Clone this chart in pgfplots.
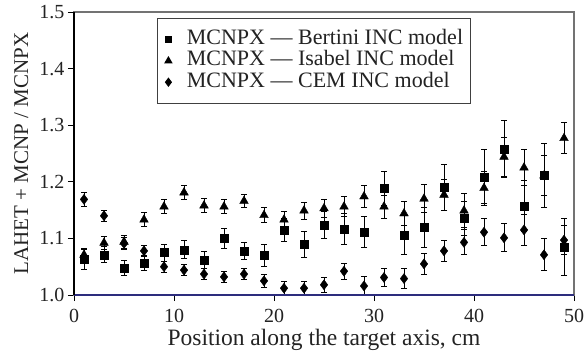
\documentclass[border=0pt]{standalone}
\usepackage{pgfplots}
\pgfplotsset{compat=1.18}
\usepackage{fontspec}
\setmainfont{Liberation Serif}
\definecolor{navyline}{RGB}{45,45,125}
\definecolor{frame}{RGB}{115,115,115}
\definecolor{txt}{RGB}{35,35,35}
\begin{document}
\begin{tikzpicture}
\begin{axis}[
  scale only axis,
  width=500bp, height=283bp,
  xmin=0, xmax=50, ymin=1.0, ymax=1.5,
  xtick={0,10,...,50},
  ytick={1.0,1.1,...,1.5},
  /pgf/number format/assume math mode=true,
  tick align=outside,
  major tick length=6bp,
  tick style={black, line width=0.8bp},
  xtick pos=bottom, ytick pos=left,
  axis line style={frame, line width=1.2bp},
  tick label style={font=\fontsize{20bp}{24bp}\selectfont, text=txt},
  xticklabel style={anchor=base, yshift=-21bp},
  yticklabel style={anchor=east, /pgf/number format/.cd, fixed, fixed zerofill, precision=1},
  xlabel={Position along the target axis, cm},
  ylabel={LAHET + MCNP / MCNPX},
  every axis x label/.style={at={(axis description cs:0.5,-0.1767)}, anchor=base,
    font=\fontsize{23.5bp}{27bp}\selectfont, text=txt},
  every axis y label/.style={at={(axis description cs:-0.092,0.5)}, anchor=base, rotate=90,
    font=\fontsize{21bp}{25bp}\selectfont, text=txt},
  legend style={at={(0.166,0.9788)}, anchor=north west, draw=black!75, line width=0.9bp,
    font=\fontsize{22bp}{26bp}\selectfont, row sep=0pt, column sep=15bp,
    inner xsep=7.5bp, inner ysep=10.5bp,
    nodes={inner sep=0bp, text height=15.5bp, text depth=5.8bp, text=txt}},
  legend image post style={scale=0.8},
  legend cell align=left,
  clip=false,
]
\coordinate (ll) at (rel axis cs:0,0);
\coordinate (ur) at (rel axis cs:1,1);
\addplot[only marks, mark=square*, mark size=4bp, black,
  error bars/.cd, y dir=both, y explicit,
  error mark options={rotate=90, mark size=3bp, black, line width=1bp},
  error bar style={line width=1bp, black}]
coordinates {
(1,1.063) +- (0,0.018)
(3,1.071) +- (0,0.014)
(5,1.048) +- (0,0.013)
(7,1.056) +- (0,0.013)
(9,1.075) +- (0,0.015)
(11,1.080) +- (0,0.016)
(13,1.061) +- (0,0.015)
(15,1.100) +- (0,0.017)
(17,1.078) +- (0,0.015)
(19,1.070) +- (0,0.019)
(21,1.115) +- (0,0.020)
(23,1.090) +- (0,0.023)
(25,1.124) +- (0,0.024)
(27,1.117) +- (0,0.027)
(29,1.111) +- (0,0.027)
(31,1.189) +- (0,0.030)
(33,1.106) +- (0,0.034)
(35,1.119) +- (0,0.035)
(37,1.190) +- (0,0.041)
(39,1.135) +- (0,0.030)
(41,1.209) +- (0,0.048)
(43,1.258) +- (0,0.050)
(45,1.157) +- (0,0.045)
(47,1.211) +- (0,0.057)
(49,1.085) +- (0,0.050)
};
\addlegendentry{MCNPX --- Bertini INC model\hspace{2bp}}
\addplot[only marks, mark=triangle*, mark size=5bp, black,
  error bars/.cd, y dir=both, y explicit,
  error mark options={rotate=90, mark size=3bp, black, line width=1bp},
  error bar style={line width=1bp, black}]
coordinates {
(1,1.071) +- (0,0.012)
(3,1.092) +- (0,0.012)
(5,1.094) +- (0,0.012)
(7,1.133) +- (0,0.012)
(9,1.156) +- (0,0.012)
(11,1.181) +- (0,0.012)
(13,1.158) +- (0,0.012)
(15,1.156) +- (0,0.012)
(17,1.166) +- (0,0.012)
(19,1.141) +- (0,0.013)
(21,1.133) +- (0,0.014)
(23,1.149) +- (0,0.015)
(25,1.153) +- (0,0.016)
(27,1.156) +- (0,0.018)
(29,1.174) +- (0,0.019)
(31,1.156) +- (0,0.020)
(33,1.144) +- (0,0.021)
(35,1.170) +- (0,0.025)
(37,1.177) +- (0,0.027)
(39,1.149) +- (0,0.030)
(41,1.189) +- (0,0.030)
(43,1.244) +- (0,0.035)
(45,1.225) +- (0,0.032)
(47,1.211) +- (0,0.035)
(49,1.277) +- (0,0.027)
};
\addlegendentry{MCNPX --- Isabel INC model}
\addplot[only marks, mark=diamond*, mark size=5bp, black,
  error bars/.cd, y dir=both, y explicit,
  error mark options={rotate=90, mark size=3bp, black, line width=1bp},
  error bar style={line width=1bp, black}]
coordinates {
(1,1.169) +- (0,0.012)
(3,1.140) +- (0,0.010)
(5,1.091) +- (0,0.010)
(7,1.078) +- (0,0.010)
(9,1.050) +- (0,0.010)
(11,1.044) +- (0,0.010)
(13,1.037) +- (0,0.010)
(15,1.032) +- (0,0.010)
(17,1.037) +- (0,0.010)
(19,1.025) +- (0,0.011)
(21,1.012) +- (0,0.012)
(23,1.012) +- (0,0.012)
(25,1.018) +- (0,0.013)
(27,1.042) +- (0,0.014)
(29,1.016) +- (0,0.016)
(31,1.031) +- (0,0.016)
(33,1.029) +- (0,0.017)
(35,1.055) +- (0,0.018)
(37,1.078) +- (0,0.019)
(39,1.093) +- (0,0.022)
(41,1.111) +- (0,0.024)
(43,1.101) +- (0,0.025)
(45,1.115) +- (0,0.027)
(47,1.071) +- (0,0.028)
(49,1.097) +- (0,0.025)
};
\addlegendentry{MCNPX --- CEM INC model}
\addplot[navyline, line width=2bp, forget plot] coordinates {(0,1.0) (50,1.0)};
\addplot[black, line width=2bp, forget plot] coordinates {(0,1.0) (0,1.5)};
\end{axis}
\pgfresetboundingbox
\path[use as bounding box] ([xshift=-74bp,yshift=-57bp]ll) rectangle ([xshift=13bp,yshift=12bp]ur);
\end{tikzpicture}
\end{document}
